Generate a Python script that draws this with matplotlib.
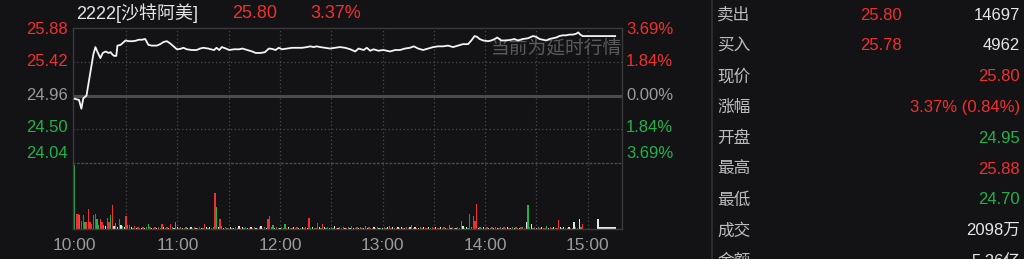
import matplotlib
matplotlib.use("Agg")
import matplotlib.pyplot as plt

plt.rcParams['font.family'] = ['Liberation Sans', 'Noto Sans CJK SC', 'DejaVu Sans']

# ---- data ----
PREV_CLOSE = 24.96
Y_TICKS = [25.88, 25.42, 24.96, 24.50, 24.04]
PCT_TICKS = ["3.69%", "1.84%", "0.00%", "1.84%", "3.69%"]
TIME_LABELS = ["10:00", "11:00", "12:00", "13:00", "14:00", "15:00"]

# minutes after 10:00 and price
price_t = [0, 2.5, 3.9, 5, 6.9, 8.9, 10.9, 12.1, 13.2, 15, 16.4, 18.2, 19.7, 21, 22, 23, 24.3,
           25, 26.8, 28.3, 29.7, 31.6, 33.5, 35.5, 37.4, 39.3, 41.2, 43.1, 45, 48, 50, 52, 53.9,
           55.8, 57.8, 59.7, 61.6, 63.6, 65.5, 68.4, 71.3, 73.3, 75.2, 78.1, 79.6, 81.5, 82.9,
           84.5, 86, 88.4, 90.3, 93.2, 96.2, 98, 100.9, 103.8, 105.8, 108.7, 111.2, 113.5, 115.4,
           117.4, 119.3, 121.3, 124.2, 127.1, 130, 132.9, 135.8, 137.7, 139.7, 141.6, 143.5,
           146.4, 149.3, 152.2, 155.1, 158.2, 161.1, 164, 166, 168.9, 170.8, 172.8, 174.7, 177.6,
           180.5, 184.4, 187.3, 190.2, 193.1, 196, 198.3, 200.8, 203.7, 206.6, 209.6, 212.5,
           215.4, 218.3, 221.2, 224.1, 227, 230, 231.9, 233.8, 235.2, 236.7, 238.8, 241.7, 243.6,
           245.6, 247.1, 249.4, 252.3, 255.3, 257.2, 259.1, 262, 265, 267.9, 269.8, 271.8, 273.7,
           275.7, 277.6, 279.5, 281.5, 283.4, 285.3, 287.3, 289.2, 291.1, 293.1, 294.4, 295.6,
           297, 316]
price_v = [24.915, 24.90, 24.78, 24.92, 24.96, 25.24, 25.52, 25.62, 25.56, 25.47, 25.54, 25.56,
           25.54, 25.55, 25.52, 25.50, 25.50, 25.64, 25.65, 25.68, 25.71, 25.70, 25.70, 25.705,
           25.72, 25.72, 25.73, 25.65, 25.64, 25.64, 25.66, 25.69, 25.70, 25.67, 25.63, 25.59,
           25.595, 25.61, 25.59, 25.58, 25.58, 25.60, 25.61, 25.60, 25.59, 25.58, 25.61, 25.58,
           25.62, 25.60, 25.58, 25.59, 25.59, 25.60, 25.58, 25.56, 25.54, 25.54, 25.55, 25.60,
           25.595, 25.58, 25.61, 25.59, 25.60, 25.61, 25.61, 25.61, 25.62, 25.63, 25.62, 25.63,
           25.62, 25.61, 25.60, 25.61, 25.62, 25.61, 25.59, 25.56, 25.60, 25.58, 25.61, 25.57,
           25.59, 25.57, 25.58, 25.56, 25.58, 25.58, 25.60, 25.61, 25.63, 25.60, 25.58, 25.60,
           25.62, 25.63, 25.63, 25.64, 25.62, 25.64, 25.66, 25.66, 25.71, 25.77, 25.76, 25.73,
           25.71, 25.70, 25.71, 25.73, 25.75, 25.71, 25.71, 25.72, 25.73, 25.71, 25.73, 25.74,
           25.77, 25.76, 25.73, 25.72, 25.71, 25.73, 25.74, 25.75, 25.77, 25.78, 25.78, 25.79,
           25.79, 25.80, 25.82, 25.79, 25.77, 25.77]

# per-minute volume (percent of panel height), 10:00 .. 14:57
vol = [97, 23, 23, 21, 12, 21, 11, 11, 30, 11, 8, 21, 23, 15, 6, 15, 11, 6, 4, 16, 10, 21, 37, 4, 9, 3, 15, 6, 4, 3,
       20, 6, 6, 3, 2, 4, 2, 3, 2, 2, 3, 2, 3, 8, 3, 2, 2, 3, 2, 3, 2, 8, 3, 2, 3, 2, 8, 3, 2, 10,
       3, 2, 3, 2, 2, 3, 2, 2, 3, 2, 3, 2, 2, 3, 2, 2, 8, 3, 2, 3, 2, 3, 54, 33, 3, 15, 4, 2, 3, 2,
       2, 3, 2, 2, 3, 2, 4, 2, 3, 2, 3, 2, 2, 3, 2, 3, 2, 2, 3, 4, 2, 3, 2, 15, 19, 3, 6, 2, 3, 2,
       2, 3, 2, 7, 2, 3, 2, 2, 3, 2, 3, 2, 2, 3, 2, 3, 2, 17, 2, 3, 2, 2, 9, 3, 2, 7, 3, 2, 3, 2,
       3, 2, 4, 2, 2, 3, 2, 3, 2, 1, 3, 2, 4, 2, 2, 3, 1, 3, 2, 2, 4, 2, 3, 2, 1, 3, 2, 3, 2, 2,
       2, 3, 2, 3, 5, 2, 3, 2, 2, 3, 2, 3, 2, 2, 3, 2, 3, 6, 2, 3, 2, 2, 3, 2, 3, 2, 2, 3, 2, 3,
       2, 3, 2, 2, 3, 2, 3, 2, 2, 6, 2, 3, 2, 2, 3, 2, 12, 4, 2, 3, 2, 22, 3, 20, 12, 38, 2, 3, 2, 3,
       2, 3, 2, 2, 3, 2, 3, 2, 2, 3, 2, 3, 2, 3, 2, 2, 3, 2, 3, 2, 2, 3, 3, 2, 11, 37, 3, 8, 2, 3,
       2, 3, 2, 3, 2, 2, 4, 2, 3, 2, 3, 2, 2, 13, 3, 2, 3, 2, 2, 3, 2, 2, 10, 3, 2, 15, 3, 8]
vol_dir = ("grrgrrgrrrrrrggrrgwrrgrwgwrwgw"
           "rgrwgrwrgwrwggrwgrwrgrwgrwrgwg"
           "wrgwrgwrwgrwgrwgrwgwrgrgwrgwrg"
           "rwgwrgwrwgrwgwrgwrgwrgwrrggwrg"
           "wrggrwgrwgrwgwrgwrgwgrrwgrwgrw"
           "rgwrwgrgwrgwrwgrwgrwgwrgrwgrwg"
           "wrgwgrwgrwgwrwgrwrgwrwgrwgrwgr"
           "rwgrwgrwrgwrgwrgrwgwgrgrrrwgrw"
           "grwgrwgwrgwrgwrwgwrgwrgrwgrwgr"
           "wgrwgrgwrgwgrrwgwrgwrgwgrwgr")
# closing auction / closing-price session
close_t = [306, 307, 308, 309, 310, 311, 312, 313, 314, 315, 316]
close_vol = [15, 2.5, 2.5, 2.5, 2.5, 2.5, 2.5, 2.5, 2.5, 2.5, 2.5]

# side panel
panel_rows = [("卖出", "25.80", "14697"), ("买入", "25.78", "4962"), ("现价", "", "25.80"),
              ("涨幅", "", "3.37% (0.84%)"), ("开盘", "", "24.95"), ("最高", "", "25.88"),
              ("最低", "", "24.70"), ("成交", "", "2098万"), ("金额", "", "5.26亿")]
panel_colors = [("r", "w"), ("r", "w"), ("", "r"), ("", "r"), ("", "g"), ("", "r"), ("", "g"),
                ("", "w"), ("", "w")]

# ---- style ----
BG = "#131316"
RED = "#f0302f"
GREEN = "#22b24c"
WHITE = "#e6e6e6"
GRAY = "#9a9a9a"
FRAME = "#3a3a3d"
cmap = {"r": RED, "g": GREEN, "w": WHITE}

W, H = 1024, 259
fig = plt.figure(figsize=(W / 100, H / 100), dpi=100, facecolor=BG)


def fx(x):
    return x / W


def fy(y):
    return 1 - y / H


x0, x1 = 73, 622
top, mid, bot = 28, 163, 229
ax = fig.add_axes([fx(x0), fy(mid), fx(x1 - x0), fy(top) - fy(mid)], facecolor=BG)
axv = fig.add_axes([fx(x0), fy(bot), fx(x1 - x0), fy(mid) - fy(bot)], facecolor=BG)

TMIN, TMAX = -1, 320
for a in (ax, axv):
    a.set_xlim(TMIN, TMAX)
    a.set_xticks([])
    a.set_yticks([])
    for s in a.spines.values():
        s.set_color(FRAME)
        s.set_linewidth(1.0)
    for t in range(30, 301, 30):
        a.axvline(t, color="#4a4a4d", lw=0.9, ls=(0, (1, 2)), zorder=0)

ax.set_ylim(24.04, 25.88)
ax.spines["bottom"].set_visible(False)
for p in (25.42, 24.50):
    ax.axhline(p, color="#4a4a4d", lw=0.9, ls=(0, (1, 2)), zorder=0)
ax.axhline(PREV_CLOSE, color="#4b4b4e", lw=2.2, zorder=1)

ax.text(1.0, (mid - 48) / (mid - top), "当前为延时行情", transform=ax.transAxes,
        ha="right", va="center", fontsize=13.5, color="#5a5a5c",
        family=["Noto Sans CJK SC"], zorder=2)
ax.plot(price_t, price_v, color="#f4f4f4", lw=1.3, zorder=3)

axv.set_ylim(0, 100)
axv.spines["top"].set_linestyle((0, (1, 2)))
axv.spines["top"].set_color("#4a4a4d")
axv.bar(range(len(vol)), vol, width=0.75, color=[cmap[c] for c in vol_dir], linewidth=0)
axv.bar(close_t, close_vol, width=1.0, color=WHITE, linewidth=0)

# axis labels as text
ylab_y = [30, 62, 96, 128, 153]
ylab_c = [RED, RED, GRAY, GREEN, GREEN]
for v, p, yy, c in zip(Y_TICKS, PCT_TICKS, ylab_y, ylab_c):
    fig.text(fx(68), fy(yy), f"{v:.2f}", ha="right", va="center", fontsize=12, color=c)
    fig.text(fx(626), fy(yy), p, ha="left", va="center", fontsize=12, color=c)

for i, lab in enumerate(TIME_LABELS):
    tx = x0 + (i * 60 - TMIN) / (TMAX - TMIN) * (x1 - x0)
    fig.text(fx(tx), fy(245), lab, ha="center", va="center", fontsize=12.5, color=GRAY)

# title
fig.text(fx(76), fy(13), "2222[沙特阿美]", ha="left", va="center", fontsize=13, color=WHITE)
fig.text(fx(232), fy(13), "25.80", ha="left", va="center", fontsize=13, color=RED)
fig.text(fx(310), fy(13), "3.37%", ha="left", va="center", fontsize=13, color=RED)

# side panel
fig.add_artist(plt.Line2D([fx(712), fx(712)], [0, 1], color="#303033", lw=1.2))
for i, ((lab, v1, v2), (c1, c2)) in enumerate(zip(panel_rows, panel_colors)):
    yy = 15 + i * 30.8
    fig.text(fx(717), fy(yy), lab, ha="left", va="center", fontsize=12, color="#bdbdbd")
    if v1:
        fig.text(fx(902), fy(yy), v1, ha="right", va="center", fontsize=12, color=cmap[c1])
    fig.text(fx(1020), fy(yy), v2, ha="right", va="center", fontsize=12, color=cmap[c2])

fig.savefig("out.png", dpi=100, facecolor=BG)
